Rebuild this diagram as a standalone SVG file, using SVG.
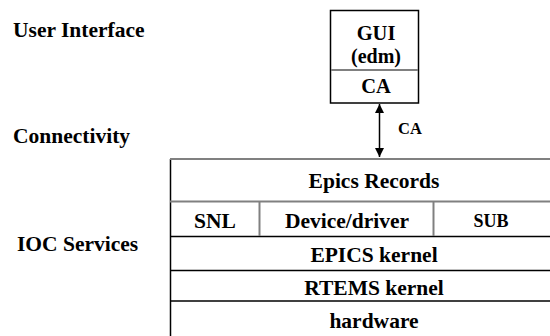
<svg xmlns="http://www.w3.org/2000/svg" width="550" height="336" viewBox="0 0 550 336">
<style>
text{font-weight:bold;fill:#000;}
.lbl{font-size:21.5px;}
.c{text-anchor:middle;}
.k{stroke:#000;stroke-width:1.5;fill:none;}
.g{stroke:#808080;stroke-width:2;fill:none;}
</style>
<defs>
<marker id="ah" viewBox="0 0 10 10" refX="10" refY="5" markerWidth="13" markerHeight="9" markerUnits="userSpaceOnUse" orient="auto-start-reverse">
<path d="M0,0 L10,5 L0,10 z" fill="#000"/>
</marker>
</defs>
<rect width="550" height="336" fill="#fff"/>
<g font-family="Liberation Serif, serif">
<g id="layer-labels">
<text class="lbl" x="13" y="37">User Interface</text>
<text class="lbl" x="13" y="143">Connectivity</text>
<text class="lbl" x="17" y="251">IOC Services</text>
</g>
<g id="gui">
<rect class="k" x="330.5" y="10.5" width="88" height="92.5"/>
<line class="g" x1="331" y1="70" x2="418" y2="70"/>
<text class="c" x="376" y="40" font-size="20.5">GUI</text>
<text class="c" x="376" y="63" font-size="20">(edm)</text>
<text class="c" x="376" y="93" font-size="20.5">CA</text>
</g>
<g id="connectors">
<line class="k" x1="379.5" y1="104" x2="379.5" y2="157" marker-start="url(#ah)" marker-end="url(#ah)"/>
<text x="398" y="134" font-size="16.5">CA</text>
</g>
<g id="ioc">
<line class="k" x1="170.5" y1="159" x2="170.5" y2="336"/>
<line class="g" x1="170" y1="159" x2="550" y2="159"/>
<line class="g" x1="170" y1="201.5" x2="550" y2="201.5"/>
<line class="k" x1="170" y1="236.5" x2="550" y2="236.5"/>
<line class="k" x1="170" y1="270.5" x2="550" y2="270.5"/>
<line class="k" x1="170" y1="301" x2="550" y2="301"/>
<line class="g" x1="259.5" y1="202" x2="259.5" y2="236"/>
<line class="g" x1="433.5" y1="202" x2="433.5" y2="236"/>
</g>
<g id="epics-records"><text class="lbl c" x="374" y="188">Epics Records</text></g>
<g id="snl"><text class="lbl c" x="215" y="228">SNL</text></g>
<g id="device-driver"><text class="lbl c" x="347" y="228">Device/driver</text></g>
<g id="sub"><text class="c" x="491" y="227" font-size="18">SUB</text></g>
<g id="epics-kernel"><text class="lbl c" x="374" y="262">EPICS kernel</text></g>
<g id="rtems-kernel"><text class="lbl c" x="374" y="295">RTEMS kernel</text></g>
<g id="hardware"><text class="lbl c" x="374" y="328">hardware</text></g>
</g>
</svg>
